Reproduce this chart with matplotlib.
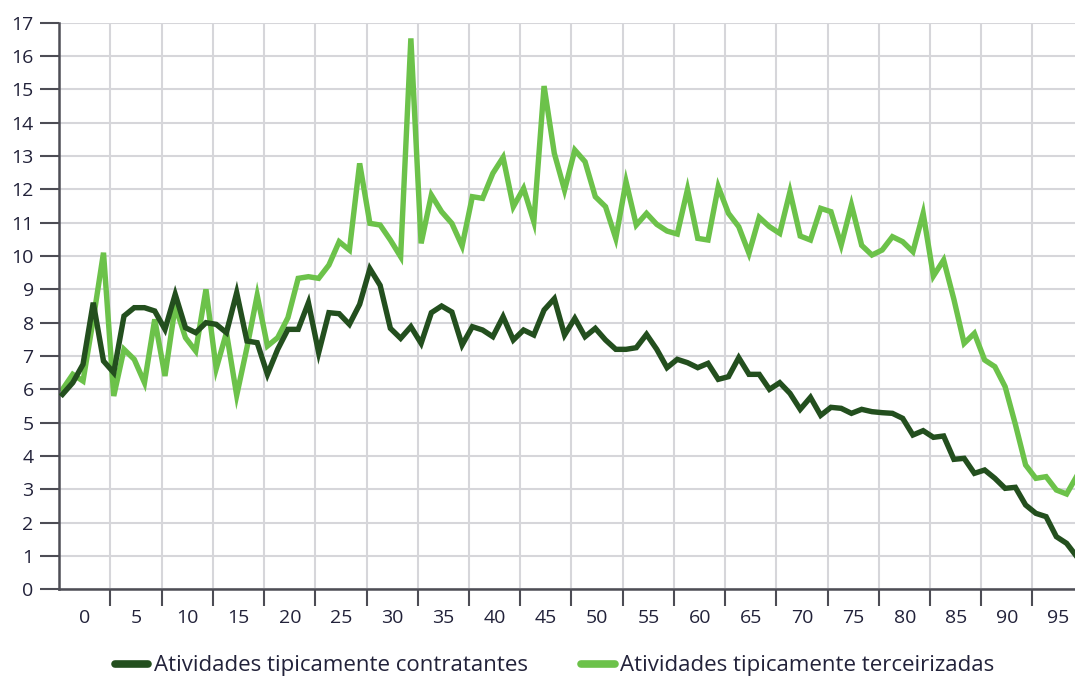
import numpy as np
import matplotlib
matplotlib.use("Agg")
import matplotlib.pyplot as plt

# x values (categories) and the two series
anos = list(range(-2, 98))

contratantes = [
    5.85, 6.2, 6.75, 8.6, 6.85, 6.5, 8.2, 8.45, 8.45, 8.35,
    7.8, 8.85, 7.85, 7.7, 8.0, 7.95, 7.7, 8.9, 7.45, 7.4,
    6.45, 7.2, 7.8, 7.8, 8.6, 7.1, 8.3, 8.27, 7.95, 8.55,
    9.62, 9.12, 7.83, 7.53, 7.88, 7.38, 8.3, 8.5, 8.32, 7.33,
    7.88, 7.78, 7.58, 8.18, 7.48, 7.78, 7.63, 8.38, 8.72, 7.63,
    8.13, 7.58, 7.83, 7.48, 7.2, 7.2, 7.25, 7.65, 7.2, 6.65,
    6.9, 6.8, 6.65, 6.78, 6.3, 6.38, 6.95, 6.45, 6.45, 6.0,
    6.2, 5.88, 5.4, 5.76, 5.22, 5.46, 5.43, 5.28, 5.4, 5.33,
    5.3, 5.28, 5.13, 4.63, 4.76, 4.56, 4.6, 3.9, 3.93, 3.48,
    3.58, 3.33, 3.03, 3.06, 2.53, 2.28, 2.18, 1.58, 1.38, 0.98,
]

terceirizadas = [
    6.0, 6.45, 6.25, 8.1, 10.1, 5.8, 7.2, 6.9, 6.2, 8.1,
    6.4, 8.5, 7.55, 7.15, 9.0, 6.62, 7.7, 5.82, 7.25, 8.82,
    7.3, 7.55, 8.15, 9.33, 9.38, 9.33, 9.73, 10.43, 10.18, 12.78,
    10.98, 10.93, 10.48, 9.98, 16.53, 10.38, 11.83, 11.33, 10.98, 10.3,
    11.78, 11.73, 12.48, 12.96, 11.48, 12.03, 11.03, 15.1, 13.08, 11.98,
    13.18, 12.83, 11.78, 11.48, 10.53, 12.23, 10.93, 11.28, 10.95, 10.75,
    10.66, 12.0, 10.53, 10.48, 12.08, 11.28, 10.88, 10.08, 11.16, 10.88,
    10.68, 11.93, 10.6, 10.48, 11.43, 11.33, 10.33, 11.53, 10.32, 10.03,
    10.18, 10.58, 10.43, 10.13, 11.28, 9.4, 9.88, 8.7, 7.38, 7.68,
    6.88, 6.68, 6.08, 4.95, 3.73, 3.33, 3.38, 2.98, 2.86, 3.4,
]

rotulos_x = list(range(0, 100, 5))
rotulos_y = list(range(0, 18))

escuro = "#234f1e"
claro = "#6cc24a"
cor_texto = "#22223a"
cor_eixo = "#4d4d55"
cor_grade = "#d6d6da"

plt.rcParams["font.family"] = ["Open Sans", "DejaVu Sans"]

fig = plt.figure(figsize=(10.75, 6.78), dpi=100)
ax = fig.add_axes([0.0552, 0.1308, 0.9448, 0.8357])

ax.plot(anos, contratantes, color=escuro, lw=3.9, solid_joinstyle="miter",
        label="Atividades tipicamente contratantes", zorder=3)
ax.plot(anos, terceirizadas, color=claro, lw=3.9, solid_joinstyle="miter",
        label="Atividades tipicamente terceirizadas", zorder=2)

ax.set_xlim(-2.31, 96.82)
ax.set_ylim(0, 17)

# grid lines / tick marks sit between the labels
ax.set_xticks([5 * k - 2.33 for k in range(1, 20)])
ax.set_xticklabels([])
ax.set_xticks([v + 0.2 for v in rotulos_x], minor=True)
ax.set_xticklabels([str(v) for v in rotulos_x], minor=True)
ax.set_yticks(rotulos_y)
ax.set_yticklabels([str(v) for v in rotulos_y])

ax.tick_params(axis="x", which="major", length=12, width=1.5, color=cor_eixo, direction="out")
ax.tick_params(axis="x", which="minor", length=0, pad=14, labelsize=14, labelcolor=cor_texto)
ax.tick_params(axis="y", length=13.5, width=1.5, color=cor_eixo, pad=5,
               labelsize=14, labelcolor=cor_texto)
for lab in ax.get_xticklabels(minor=True) + ax.get_yticklabels():
    lab.set_fontweight("medium")

ax.grid(True, which="major", color=cor_grade, lw=1.5)
ax.set_axisbelow(True)

for lado in ["top", "right"]:
    ax.spines[lado].set_visible(False)
for lado in ["left", "bottom"]:
    ax.spines[lado].set_color(cor_eixo)
    ax.spines[lado].set_linewidth(1.8)

leg = fig.legend(loc="center", bbox_to_anchor=(0.516, 0.018), ncol=2, frameon=False,
                 fontsize=16, handlelength=1.5, handletextpad=0.25, columnspacing=2.4)
for h in leg.get_lines():
    h.set_linewidth(5.5)
    h.set_solid_capstyle("round")
for t in leg.get_texts():
    t.set_color(cor_texto)

fig.savefig("out.png", dpi=100)
